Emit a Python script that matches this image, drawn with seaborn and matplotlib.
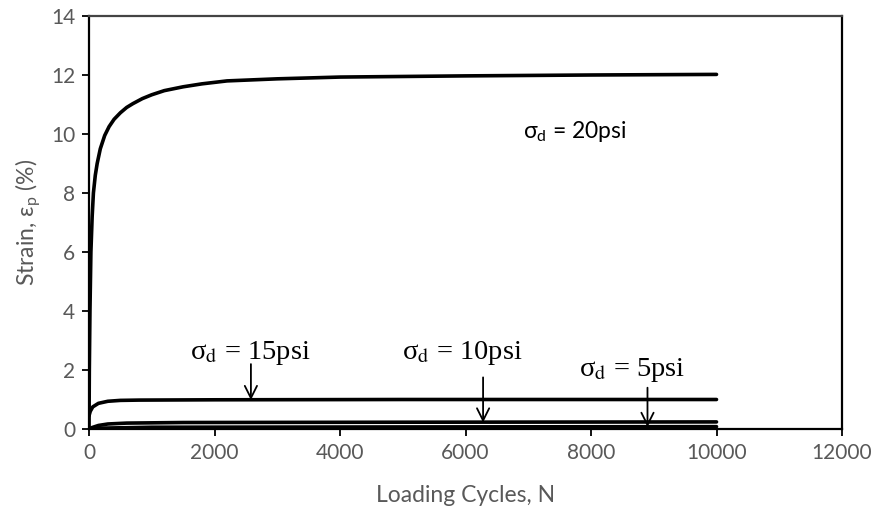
import numpy as np
import pandas as pd
import matplotlib
matplotlib.use("Agg")
import matplotlib.pyplot as plt
import seaborn as sns

# Permanent strain vs. loading cycles for four deviator stress levels
cycles_20 = [0, 5, 15, 30, 50, 70, 100, 130, 180, 250, 320, 400, 500, 600, 700,
             850, 1000, 1200, 1500, 1800, 2200, 3000, 4000, 6000, 8000, 10000]
strain_20 = [0, 2.0, 4.0, 6.0, 7.2, 8.0, 8.6, 9.0, 9.5, 9.95, 10.25, 10.5, 10.72, 10.9, 11.03,
             11.2, 11.33, 11.47, 11.6, 11.7, 11.8, 11.87, 11.93, 11.97, 12.0, 12.02]

cycles_15 = [0, 20, 60, 150, 300, 500, 800, 2000, 5000, 10000]
strain_15 = [0.45, 0.6, 0.75, 0.87, 0.94, 0.97, 0.98, 0.99, 1.0, 1.0]

cycles_10 = [0, 50, 150, 300, 600, 1500, 5000, 10000]
strain_10 = [0.0, 0.05, 0.12, 0.17, 0.2, 0.22, 0.23, 0.24]

cycles_5 = [0, 200, 1000, 5000, 10000]
strain_5 = [0.0, 0.03, 0.06, 0.07, 0.08]

series_names = ["20psi", "15psi", "10psi", "5psi"]

x_ticks = [0, 2000, 4000, 6000, 8000, 10000, 12000]
y_ticks = [0, 2, 4, 6, 8, 10, 12, 14]

frames = []
for name, xs, ys in zip(series_names,
                        [cycles_20, cycles_15, cycles_10, cycles_5],
                        [strain_20, strain_15, strain_10, strain_5]):
    frames.append(pd.DataFrame({"N": xs, "strain": ys, "stress": name}))
df = pd.concat(frames, ignore_index=True)

sns.set_style("white")
plt.rcParams["font.family"] = ["Lato", "DejaVu Sans"]
plt.rcParams["mathtext.fontset"] = "custom"
plt.rcParams["mathtext.rm"] = "Lato"
plt.rcParams["mathtext.it"] = "Lato:italic"

fig = plt.figure(figsize=(8.77, 5.16), dpi=100)
ax = fig.add_axes([0.1015, 0.1686, 0.8586, 0.8004])

sns.lineplot(data=df, x="N", y="strain", units="stress", estimator=None,
             color="black", linewidth=2.6, sort=False, ax=ax, legend=False)

ax.set_xlim(0, 12000)
ax.set_ylim(0, 14)
ax.set_xticks(x_ticks)
ax.set_yticks(y_ticks)
ax.tick_params(axis="both", which="major", direction="out", length=5, width=1.3,
               color="black", labelsize=15, labelcolor="#595959",
               bottom=True, left=True, top=False, right=False, pad=5)
for side in ["left", "bottom", "right", "top"]:
    ax.spines[side].set_visible(True)
    ax.spines[side].set_color("black")
    ax.spines[side].set_linewidth(1.6)
ax.spines["top"].set_color("#444444")

ax.set_xlabel("Loading Cycles, N", fontsize=16.5, color="#595959", labelpad=16)
ax.set_ylabel("Strain, ε$_\\mathrm{p}$ (%)", fontsize=16.5, color="#595959", labelpad=6)

# Sans label for the highest stress level
ax.text(7740, 10.1, "σ$_\\mathrm{d}$ = 20psi", fontsize=16.5, color="black",
        ha="center", va="center")

# Serif labels with arrows for the lower stress levels
serif_kw = dict(fontsize=20.5, color="black", ha="center", va="center",
                family=["Liberation Serif", "DejaVu Serif"])
labels = [
    ("σ$_\\mathrm{d}$ = 15psi", 2570, 2.57, 2580, 2.2, 0.98),
    ("σ$_\\mathrm{d}$ = 10psi", 5950, 2.57, 6280, 1.75, 0.22),
    ("σ$_\\mathrm{d}$ = 5psi", 8650, 2.0, 8900, 1.4, 0.07),
]
for txt, tx, ty, ax_x, y0, y1 in labels:
    t = ax.text(tx, ty, txt, **serif_kw)
    t.set_math_fontfamily("stix")
    ax.annotate("", xy=(ax_x, y1), xytext=(ax_x, y0),
                arrowprops=dict(arrowstyle="->", color="black", lw=1.3,
                                mutation_scale=22, shrinkA=0, shrinkB=0))

fig.savefig("out.png", dpi=100)
